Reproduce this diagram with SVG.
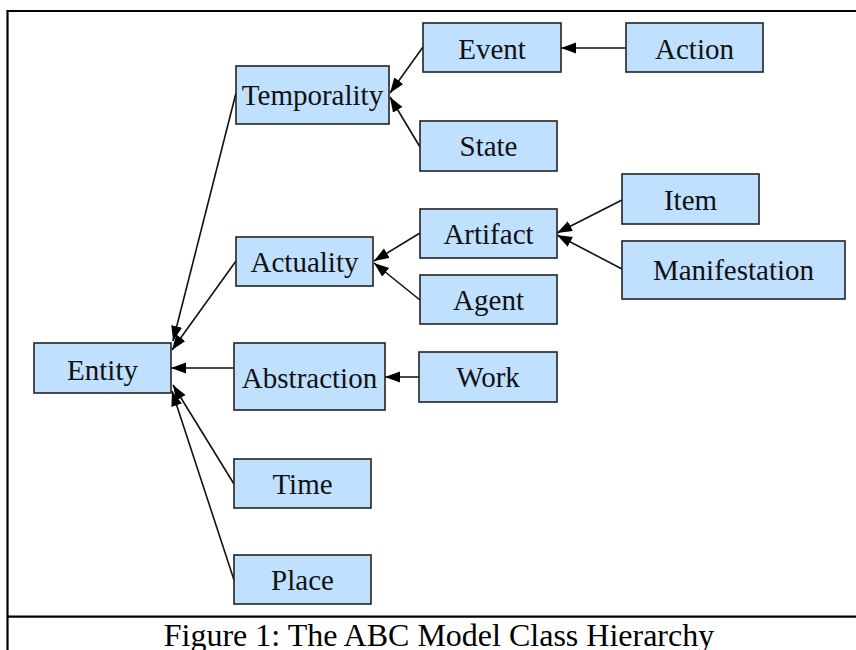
<svg xmlns="http://www.w3.org/2000/svg" width="856" height="650" viewBox="0 0 856 650">
<style>
.n rect{fill:#c0e0ff;stroke:#222;stroke-width:1.6}
.n text{font-family:"Liberation Serif","Times New Roman",serif;font-size:29px;fill:#111;text-anchor:middle}
.e line{stroke:#111;stroke-width:1.6;marker-end:url(#ah)}
.frame{stroke:#000;stroke-width:2.2;fill:none}
.cap{font-family:"Liberation Serif","Times New Roman",serif;font-size:32px;fill:#000;text-anchor:middle}
</style>
<defs>
<marker id="ah" markerUnits="userSpaceOnUse" markerWidth="16" markerHeight="12" refX="15" refY="5.5" orient="auto">
<path d="M0,0 L15,5.5 L0,11 z" fill="#000"/>
</marker>
</defs>
<rect width="856" height="650" fill="#fff"/>
<g id="frame" class="frame">
<line x1="7.5" y1="11" x2="856" y2="11"/>
<line x1="7.5" y1="10" x2="7.5" y2="650"/>
<line x1="7.5" y1="616.7" x2="856" y2="616.7"/>
</g>
<g id="connectors" class="e">
<line x1="626" y1="48" x2="561" y2="48"/>
<line x1="423" y1="47" x2="390" y2="93"/>
<line x1="420" y1="147" x2="390" y2="97"/>
<line x1="622" y1="200" x2="557" y2="233"/>
<line x1="622" y1="269" x2="557" y2="235"/>
<line x1="420" y1="233" x2="374" y2="261"/>
<line x1="420" y1="300" x2="374" y2="263"/>
<line x1="420" y1="377" x2="385" y2="377"/>
<line x1="236" y1="93" x2="173" y2="341"/>
<line x1="236" y1="261" x2="172" y2="350"/>
<line x1="234" y1="368" x2="171" y2="368"/>
<line x1="234" y1="484" x2="173" y2="385"/>
<line x1="234" y1="580" x2="172" y2="391"/>
</g>
<g font-family="'Liberation Serif', 'Times New Roman', serif">
<g id="entity" class="n"><rect x="34" y="343" width="137" height="50"/><text x="102.5" y="380">Entity</text></g>
<g id="temporality" class="n"><rect x="236" y="66" width="153" height="58"/><text x="312.5" y="105">Temporality</text></g>
<g id="actuality" class="n"><rect x="236" y="237" width="137" height="49"/><text x="304.5" y="271.5">Actuality</text></g>
<g id="abstraction" class="n"><rect x="234" y="343" width="151" height="67"/><text x="309.5" y="388">Abstraction</text></g>
<g id="time" class="n"><rect x="234" y="459" width="137" height="49"/><text x="302.5" y="493.5">Time</text></g>
<g id="place" class="n"><rect x="234" y="555" width="137" height="49"/><text x="302.5" y="589.5">Place</text></g>
<g id="event" class="n"><rect x="423" y="23" width="138" height="49"/><text x="492" y="59">Event</text></g>
<g id="state" class="n"><rect x="420" y="121" width="137" height="50"/><text x="488.5" y="156">State</text></g>
<g id="artifact" class="n"><rect x="420" y="209" width="137" height="49"/><text x="488.5" y="243.5">Artifact</text></g>
<g id="agent" class="n"><rect x="420" y="275" width="137" height="49"/><text x="488.5" y="310">Agent</text></g>
<g id="work" class="n"><rect x="419" y="352" width="138" height="50"/><text x="488" y="387">Work</text></g>
<g id="action" class="n"><rect x="626" y="23" width="137" height="49"/><text x="694.5" y="59">Action</text></g>
<g id="item" class="n"><rect x="622" y="174" width="137" height="50"/><text x="690.5" y="209.5">Item</text></g>
<g id="manifestation" class="n"><rect x="622" y="241" width="223" height="58"/><text x="733.5" y="280">Manifestation</text></g>
</g>
<text class="cap" x="439" y="646">Figure 1: The ABC Model Class Hierarchy</text>
</svg>
